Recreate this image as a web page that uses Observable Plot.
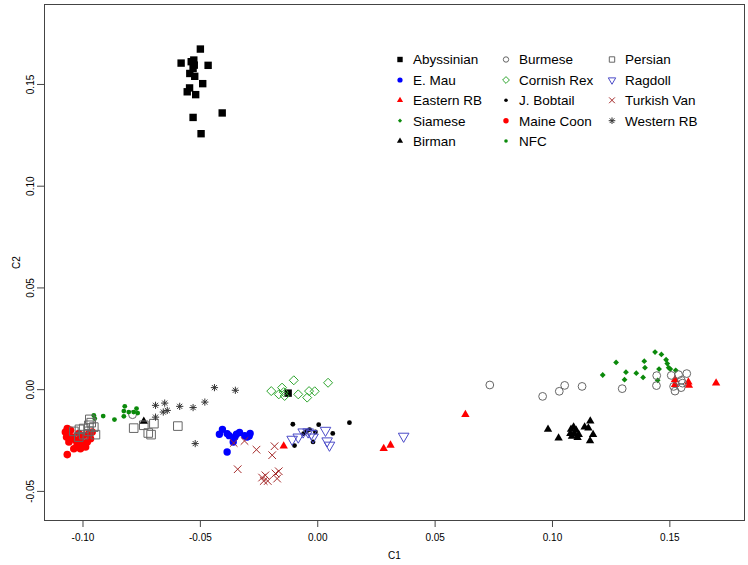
<!DOCTYPE html>
<html><head><meta charset="utf-8">
<script src="https://cdn.jsdelivr.net/npm/d3@7"></script>
<script src="https://cdn.jsdelivr.net/npm/@observablehq/plot@0.6"></script>
<style>
body{margin:0;background:#fff;font-family:"Liberation Sans",Arial,sans-serif;}
#wrap{position:relative;width:748px;height:565px;}
#legend{position:absolute;left:0;top:0;pointer-events:none;}
</style></head><body><div id="wrap"></div>
<script>
// ---- data: [C1, C2] per breed ----
const abyssinian = [[-0.0500,0.1674],[-0.0582,0.1605],[-0.0528,0.1620],[-0.0539,0.1612],[-0.0526,0.1595],[-0.0467,0.1594],[-0.0531,0.1579],[-0.0545,0.1554],[-0.0524,0.1540],[-0.0490,0.1504],[-0.0546,0.1483],[-0.0556,0.1464],[-0.0520,0.1450],[-0.0407,0.1360],[-0.0531,0.1338],[-0.0497,0.1258],[-0.0126,-0.0017]];
const eMau = [[-0.0406,-0.0195],[-0.0419,-0.0219],[-0.0386,-0.0216],[-0.0377,-0.0226],[-0.0353,-0.0233],[-0.0333,-0.0210],[-0.0311,-0.0226],[-0.0301,-0.0233],[-0.0288,-0.0215],[-0.0292,-0.0228],[-0.0360,-0.0257],[-0.0386,-0.0306],[-0.0346,-0.0219]];
const easternRB = [[-0.0145,-0.0277],[0.0281,-0.0290],[0.0310,-0.0273],[0.0629,-0.0123],[0.1522,0.0049],[0.1522,0.0025],[0.1579,0.0037],[0.1581,0.0021],[0.1697,0.0032]];
const siamese = [[0.1437,0.0185],[0.1464,0.0173],[0.1484,0.0147],[0.1489,0.0128],[0.1495,0.0108],[0.1502,0.0101],[0.1525,0.0095],[0.1271,0.0134],[0.1391,0.0140],[0.1394,0.0108],[0.1313,0.0086],[0.1357,0.0081],[0.1386,0.0060],[0.1214,0.0072],[0.1307,0.0049],[0.1454,0.0101],[0.1448,0.0046]];
const birman = [[0.0981,-0.0195],[0.1026,-0.0238],[0.1079,-0.0195],[0.1090,-0.0184],[0.1101,-0.0200],[0.1083,-0.0229],[0.1107,-0.0236],[0.1093,-0.0216],[0.1137,-0.0184],[0.1161,-0.0154],[0.1153,-0.0189],[0.1173,-0.0221],[0.1160,-0.0252],[0.1112,-0.0221],[0.1076,-0.0216],[-0.0741,-0.0156]];
const burmese = [[0.0733,0.0023],[0.0958,-0.0033],[0.1029,-0.0008],[0.1052,0.0021],[0.1126,0.0016],[0.1297,0.0005],[0.1444,0.0069],[0.1443,0.0020],[0.1506,0.0070],[0.1537,0.0074],[0.1572,0.0079],[0.1549,0.0046],[0.1554,0.0032],[0.1516,0.0016],[0.1522,-0.0007],[0.1548,0.0010],[-0.0789,-0.0123]];
const cornishRex = [[-0.0198,-0.0007],[-0.0166,-0.0023],[-0.0152,0.0010],[-0.0141,-0.0031],[-0.0145,-0.0012],[-0.0102,0.0046],[-0.0083,-0.0023],[-0.0045,-0.0039],[-0.0037,-0.0007],[-0.0013,-0.0008],[0.0044,0.0034]];
const jBobtail = [[-0.0106,-0.0170],[-0.0060,-0.0216],[-0.0035,-0.0196],[-0.0010,-0.0208],[0.0004,-0.0172],[0.0064,-0.0215],[0.0135,-0.0162],[-0.0099,-0.0275],[-0.0020,-0.0257],[-0.0048,-0.0205]];
const maineCoon = [[-0.1067,-0.0191],[-0.1075,-0.0208],[-0.1053,-0.0200],[-0.1070,-0.0233],[-0.1046,-0.0233],[-0.1060,-0.0257],[-0.1032,-0.0249],[-0.1011,-0.0241],[-0.0997,-0.0224],[-0.1025,-0.0273],[-0.1003,-0.0265],[-0.0982,-0.0257],[-0.0968,-0.0241],[-0.1039,-0.0290],[-0.1011,-0.0290],[-0.1067,-0.0319],[-0.0989,-0.0282],[-0.1018,-0.0216],[-0.0975,-0.0216],[-0.0961,-0.0208]];
const nfc = [[-0.0954,-0.0126],[-0.0950,-0.0142],[-0.0914,-0.0130],[-0.0866,-0.0147],[-0.0826,-0.0131],[-0.0822,-0.0082],[-0.0826,-0.0105],[-0.0805,-0.0110],[-0.0784,-0.0110],[-0.0772,-0.0093],[-0.0767,-0.0115]];
const persian = [[-0.0971,-0.0146],[-0.0965,-0.0162],[-0.0975,-0.0175],[-0.0954,-0.0184],[-0.0997,-0.0191],[-0.1015,-0.0195],[-0.1039,-0.0205],[-0.0975,-0.0205],[-0.0947,-0.0221],[-0.0997,-0.0221],[-0.1018,-0.0233],[-0.0784,-0.0189],[-0.0741,-0.0175],[-0.0698,-0.0167],[-0.0722,-0.0213],[-0.0710,-0.0221],[-0.0596,-0.0179]];
const ragdoll = [[-0.0109,-0.0244],[-0.0083,-0.0233],[-0.0062,-0.0208],[-0.0041,-0.0208],[-0.0027,-0.0216],[-0.0020,-0.0233],[0.0033,-0.0200],[0.0040,-0.0252],[0.0050,-0.0273],[0.0366,-0.0229]];
const turkishVan = [[-0.0358,-0.0262],[-0.0312,-0.0252],[-0.0261,-0.0295],[-0.0184,-0.0278],[-0.0194,-0.0322],[-0.0341,-0.0391],[-0.0237,-0.0432],[-0.0223,-0.0421],[-0.0213,-0.0449],[-0.0180,-0.0412],[-0.0166,-0.0401],[-0.0173,-0.0437],[-0.0230,-0.0449]];
const westernRB = [[-0.0691,-0.0077],[-0.0652,-0.0066],[-0.0691,-0.0135],[-0.0658,-0.0110],[-0.0641,-0.0102],[-0.0588,-0.0082],[-0.0531,-0.0088],[-0.0481,-0.0061],[-0.0440,0.0010],[-0.0351,-0.0003],[-0.0522,-0.0265]];

const breedNames = ["Abyssinian","E. Mau","Eastern RB","Siamese","Birman","Burmese","Cornish Rex","J. Bobtail","Maine Coon","NFC","Persian","Ragdoll","Turkish Van","Western RB"];
const xTicks = [-0.10,-0.05,0.00,0.05,0.10,0.15];
const yTicks = [-0.05,0.00,0.05,0.10,0.15];

// ---- symbols (size -> half-width r) ----
const mk = f => ({draw(ctx,size){ f(ctx, Math.sqrt(size/Math.PI)); }});
const symSquare = mk((c,r)=>{c.moveTo(-r,-r);c.lineTo(r,-r);c.lineTo(r,r);c.lineTo(-r,r);c.closePath();});
const symTriUp = mk((c,r)=>{const h=r*Math.sqrt(3);c.moveTo(0,-h*2/3);c.lineTo(r,h/3);c.lineTo(-r,h/3);c.closePath();});
const symTriDown = mk((c,r)=>{const h=r*Math.sqrt(3);c.moveTo(0,h*2/3);c.lineTo(r,-h/3);c.lineTo(-r,-h/3);c.closePath();});
const symDiamond = mk((c,r)=>{c.moveTo(0,-r);c.lineTo(r,0);c.lineTo(0,r);c.lineTo(-r,0);c.closePath();});
const symTimes = mk((c,r)=>{c.moveTo(-r,-r);c.lineTo(r,r);c.moveTo(-r,r);c.lineTo(r,-r);});
const symAst = mk((c,r)=>{const d=r*0.7071;c.moveTo(-r,0);c.lineTo(r,0);c.moveTo(0,-r);c.lineTo(0,r);c.moveTo(-d,-d);c.lineTo(d,d);c.moveTo(-d,d);c.lineTo(d,-d);});
const symCircle = d3.symbolCircle;

const GREEN = "#0b8a0b", GREEN2 = "#2ea52e", GRAY = "#666";
const styles = [
  {data:abyssinian, sym:symSquare, r:3.7, lr:2.7, fill:"#000", stroke:"none"},
  {data:eMau, sym:symCircle, r:3.7, lr:2.6, fill:"#0000ff", stroke:"none"},
  {data:easternRB, sym:symTriUp, r:4.2, lr:3.1, fill:"#ff0000", stroke:"none"},
  {data:siamese, sym:symDiamond, r:2.9, lr:2.1, fill:GREEN, stroke:"none"},
  {data:birman, sym:symTriUp, r:4.2, lr:3.1, fill:"#000", stroke:"none"},
  {data:burmese, sym:symCircle, r:3.9, lr:2.7, fill:"none", stroke:GRAY},
  {data:cornishRex, sym:symDiamond, r:4.5, lr:3.4, fill:"none", stroke:GREEN2},
  {data:jBobtail, sym:symCircle, r:2.4, lr:1.8, fill:"#000", stroke:"none"},
  {data:maineCoon, sym:symCircle, r:3.8, lr:2.7, fill:"#ff0000", stroke:"none"},
  {data:nfc, sym:symCircle, r:2.4, lr:1.8, fill:GREEN, stroke:"none"},
  {data:persian, sym:symSquare, r:4.3, lr:2.7, fill:"none", stroke:GRAY},
  {data:ragdoll, sym:symTriDown, r:5.3, lr:3.7, fill:"none", stroke:"#4b4bc8"},
  {data:turkishVan, sym:symTimes, r:3.8, lr:2.9, fill:"none", stroke:"#a52a2a"},
  {data:westernRB, sym:symAst, r:3.6, lr:3.3, fill:"none", stroke:"#333"}
];

const fmt = d => d.toFixed(2);
const chart = Plot.plot({
  width:748, height:565, marginLeft:44, marginRight:4, marginTop:4, marginBottom:45,
  style:{fontFamily:"'Liberation Sans', Arial, sans-serif", fontSize:"10px", color:"#000", background:"#fff"},
  x:{domain:[-0.1164,0.1818]},
  y:{domain:[-0.0643,0.1893]},
  marks:[
    Plot.axisX({ticks:xTicks, tickFormat:fmt, tickSize:7, tickPadding:6, stroke:"#444", label:"C1", labelAnchor:"center", labelArrow:"none", labelOffset:38}),
    Plot.axisY({ticks:yTicks, tickFormat:fmt, tickSize:7, tickPadding:4, tickRotate:-90, stroke:"#444", label:"C2", labelAnchor:"center", labelArrow:"none", labelOffset:32}),
    ...styles.map(s => Plot.dot(s.data, {x:d=>d[0], y:d=>d[1], symbol:()=>s.sym, r:s.r, fill:s.fill, stroke:s.stroke, strokeWidth:1})),
    Plot.frame({stroke:"#444"})
  ]
});
const wrap = document.getElementById("wrap");
wrap.appendChild(chart);

// ---- legend overlay ----
const lg = d3.select(wrap).append("svg").attr("id","legend").attr("width",748).attr("height",565);
const colSym = [400,506,612], colTxt = [413,519,625], rowY = [59.5,80,100.3,120.7,141];
const perCol = [5,5,4];
let idx = 0;
for (let c=0;c<3;c++) for (let r=0;r<perCol[c];r++,idx++){
  const s = styles[idx];
  lg.append("path").attr("transform",`translate(${colSym[c]},${rowY[r]})`)
    .attr("d", d3.symbol().type(s.sym).size(Math.PI*s.lr*s.lr)())
    .attr("fill", s.fill).attr("stroke", s.stroke).attr("stroke-width",1);
  lg.append("text").attr("x",colTxt[c]).attr("y",rowY[r]).attr("dy","0.36em")
    .attr("font-family","'Liberation Sans', Arial, sans-serif").attr("font-size",13.5)
    .attr("fill","#000").text(breedNames[idx]);
}
</script></body></html>
